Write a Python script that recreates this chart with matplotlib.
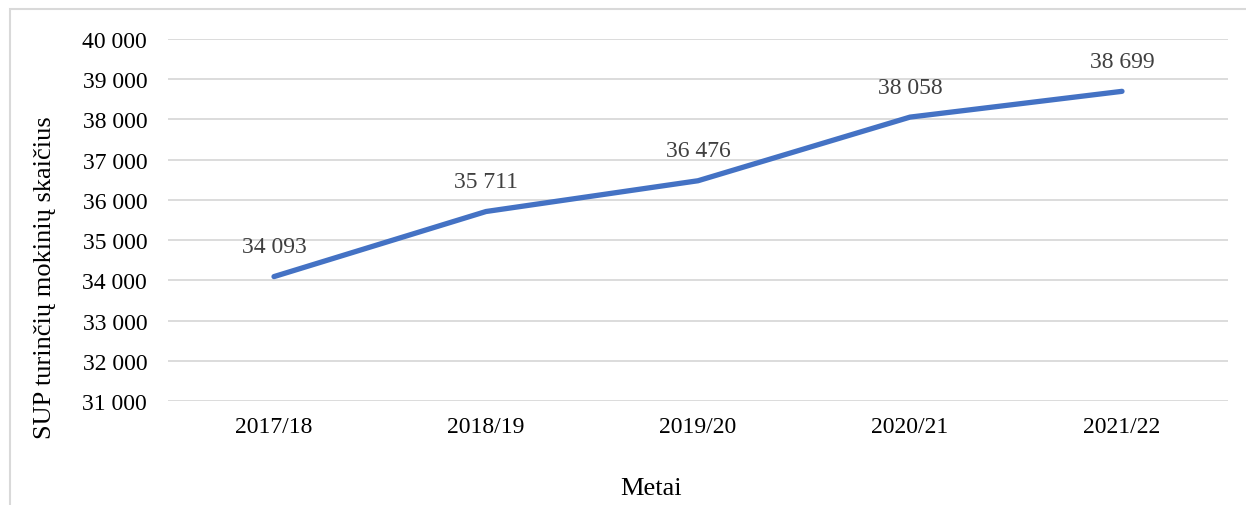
import matplotlib.pyplot as plt
from matplotlib.patches import Rectangle

# Data
years = ['2017/18', '2018/19', '2019/20', '2020/21', '2021/22']
students = [34093, 35711, 36476, 38058, 38699]
y_ticks = [31000, 32000, 33000, 34000, 35000, 36000, 37000, 38000, 39000, 40000]


def fmt(v):
    return f'{v:,}'.replace(',', ' ')


plt.rcParams['font.family'] = ['Liberation Serif', 'DejaVu Serif']

fig = plt.figure(figsize=(12.46, 5.06), dpi=100)
ax = fig.add_axes([168 / 1246, 1 - 402 / 506, 1060 / 1246, 362 / 506])

# Chart frame (runs off the right and bottom edges)
fig.patches.append(Rectangle((10 / 1246, -0.1), 1.2, 1 - 10 / 506 + 0.1,
                             transform=fig.transFigure, fill=False,
                             edgecolor='#d9d9d9', linewidth=1.5))

x = list(range(len(years)))
ax.plot(x, students, color='#4472c4', linewidth=3.8, solid_capstyle='round',
        solid_joinstyle='round', zorder=3)

for xi, v in zip(x, students):
    ax.annotate(fmt(v), (xi, v), xytext=(0, 14), textcoords='offset points',
                ha='center', va='bottom', fontsize=17, color='#404040')

ax.set_xlim(-0.5, len(years) - 0.5)
ax.set_ylim(31000, 40000)
ax.set_yticks(y_ticks)
ax.set_yticklabels([fmt(t) for t in y_ticks], fontsize=17)
ax.set_xticks(x)
ax.set_xticklabels(years, fontsize=17)
ax.tick_params(length=0)
ax.tick_params(axis='x', pad=11)
ax.tick_params(axis='y', pad=15)

ax.grid(axis='y', color='#d9d9d9', linewidth=1.3)
ax.set_axisbelow(True)
for s in ax.spines.values():
    s.set_visible(False)

fig.text(45 / 1246, 1 - 278 / 506, 'SUP turinčių mokinių skaičius', rotation=90,
         ha='center', va='center', fontsize=19)
fig.text(651 / 1246, 1 - 489 / 506, 'Metai', ha='center', va='center', fontsize=19)

fig.savefig('out.png', dpi=100)
